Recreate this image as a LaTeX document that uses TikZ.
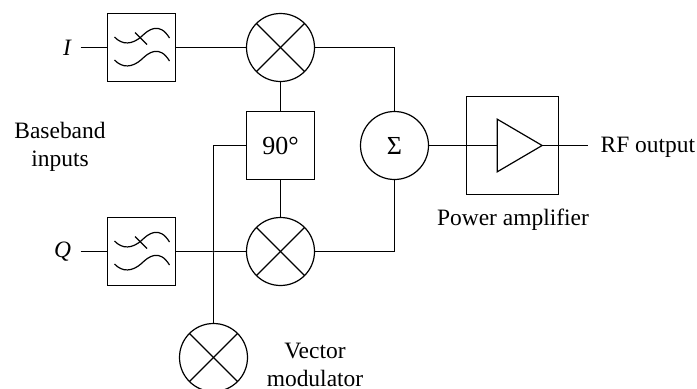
\documentclass[tikz,border=0pt]{standalone}
\usepackage{fontspec}
\setmainfont{Liberation Serif}
\usetikzlibrary{shapes.geometric}
\tikzset{
  lbl/.style={inner sep=0pt, font=\fontsize{17.6}{21}\selectfont, align=center},
  mixer/.style={circle, draw, outer sep=0pt, inner sep=0pt, minimum size=51pt,
    path picture={
      \draw (path picture bounding box.north west) -- (path picture bounding box.south east);
      \draw (path picture bounding box.south west) -- (path picture bounding box.north east);
    }},
  lowpass/.style={draw, outer sep=0pt, minimum size=51pt,
    path picture={
      \begin{scope}[shift={(path picture bounding box.center)}]
        \draw (-27,-10.5) .. controls (-19,-2) and (-9,-3) .. (0,-11) .. controls (7,-18) and (18,-26) .. (28,-9.5);
        \draw (-27,12.5) .. controls (-19,21) and (-9,20) .. (0,12) .. controls (7,5) and (18,-3) .. (28,13.5);
        \draw (-6.5,-15) -- (5.5,-3);
      \end{scope}
    }},
}
\begin{document}
\begin{tikzpicture}[x=0.75pt, y=-0.75pt, line width=0.9pt]
  \useasboundingbox (0,0) rectangle (697,389);
  % I branch
  \node[lowpass] (filti) at (141.5,47.5) {};
  \node[mixer] (mixi) at (280.5,47.5) {};
  \node[lbl, anchor=east, inner xsep=6.8pt, font=\fontsize{17.6}{21}\selectfont\itshape] (ini) at (80.7,47.5) {I};
  % Q branch
  \node[lowpass] (filtq) at (141.5,251.5) {};
  \node[mixer] (mixq) at (280.5,251.5) {};
  \node[lbl, anchor=east, inner xsep=6.8pt, font=\fontsize{17.6}{21}\selectfont\itshape] (inq) at (80.7,251.5) {Q};
  % phase shifter and local oscillator mixer
  \node[draw, outer sep=0pt, minimum size=51pt] (shift) at (280.5,145.5) {\fontsize{19.5}{21}\selectfont 90°};
  \node[mixer] (mixv) at (213.5,357.5) {};
  \node[circle, fill, inner sep=0pt, minimum size=2pt] (junc) at (213.5,251.5) {};
  % summing point and amplifier
  \node[circle, draw, outer sep=0pt, inner sep=0pt, minimum size=51pt] (sigma) at (394.5,145.5) {\fontsize{19.5}{21}\selectfont Σ};
  \node[draw, outer sep=0pt, minimum width=69pt, minimum height=73.5pt] (pabox) at (512.5,145.5) {};
  \node[draw, isosceles triangle, isosceles triangle stretches, outer sep=0pt, inner sep=0pt,
    minimum width=39.5pt, minimum height=33.7pt] (amp) at (512.3,145.5) {};
  \node[lbl, anchor=west, inner xsep=9pt] (rfout) at (588,147) {RF output};
  % connectors
  \draw (ini) -- (filti);
  \draw (filti) -- (mixi);
  \draw (inq) -- (filtq);
  \draw (filtq) -- (junc) -- (mixq);
  \draw (mixi) -- (shift);
  \draw (shift) -- (mixq);
  \draw (shift.west) -| (junc) -- (mixv);
  \draw (mixi) -| (sigma);
  \draw (mixq) -| (sigma);
  \draw (sigma) -- (amp.west);
  \draw (amp.apex) -- (rfout.west |- amp.apex);
  % captions
  \node[lbl] (basetxt) at (60,147) {Baseband\\inputs};
  \node[lbl] (patxt) at (513,220) {Power amplifier};
  \node[lbl] (vectxt) at (315,364.5) {Vector\\modulator};
\end{tikzpicture}
\end{document}
